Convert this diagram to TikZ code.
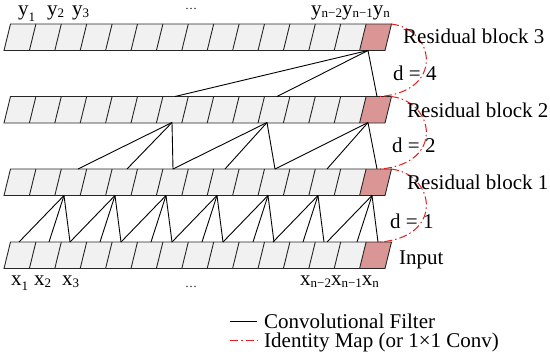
\documentclass[tikz,border=0pt]{standalone}
\usepackage{fontspec}
\setmainfont{Liberation Serif}
\definecolor{cellgray}{RGB}{241,241,241}
\definecolor{cellred}{RGB}{218,150,148}
\definecolor{idred}{RGB}{228,30,30}
\newcommand{\mysb}[2][2.5pt]{\raisebox{-#1}{\fontsize{13}{13}\selectfont #2}}
\begin{document}
\begin{tikzpicture}[x=1pt,y=-1pt,
  rowline/.style={draw=black!85, line width=0.9pt},
  conv/.style={black, line width=0.9pt},
  idmap/.style={idred, line width=1pt, dash pattern=on 8pt off 3pt on 1.5pt off 3pt},
  lbl/.style={font=\fontsize{21}{24}\selectfont, inner sep=0pt, anchor=base west},
  dots/.style={font=\fontsize{12}{12}\selectfont, inner sep=0pt, anchor=base},
]
\useasboundingbox (0,0) rectangle (550,354);
\def\cw{25.4}
\def\sl{6.5}
\def\hh{26.5}
% rows of cells
\foreach \r/\t in {0/242,1/169,2/96.5,3/24}{
  \pgfmathsetmacro{\b}{\t+\hh}
  \fill[cellgray] (4,\b) -- ({4+\sl},\t) -- ({4+\sl+14*\cw},\t) -- ({4+14*\cw},\b) -- cycle;
  \fill[cellred] ({4+14*\cw},\b) -- ({4+\sl+14*\cw},\t) -- ({4+\sl+15*\cw},\t) -- ({4+15*\cw},\b) -- cycle;
  \draw[rowline] (4,\b) -- ({4+\sl},\t) -- ({4+\sl+15*\cw},\t) -- ({4+15*\cw},\b) -- cycle;
  \foreach \k in {1,...,14} \draw[rowline] ({4+\k*\cw},\b) -- ({4+\sl+\k*\cw},\t);
  \coordinate (red\r) at ({4+\sl+15*\cw-0.5},\t);
  \coordinate (redin\r) at (380,\t);
}
% d = 1 filters
\foreach \a in {64,115,166,217,268,318,372}{
  \coordinate (apx) at (\a,195.5);
  \foreach \o in {-45,-15,6}{
    \coordinate (bp) at ({\a+\o},242);
    \draw[conv] (apx) -- (bp);
  }
}
% d = 2 filters
\foreach \a/\p/\q/\s in {172/78/127/173, 267/173/225/275, 368/275/327/377}{
  \coordinate (apx) at (\a,122.5);
  \foreach \x in {\p,\q,\s}{
    \coordinate (bp) at (\x,169);
    \draw[conv] (apx) -- (bp);
  }
}
% d = 4 filter
\coordinate (apx4) at (368,50.5);
\foreach \x in {175,277,377}{
  \coordinate (bp) at (\x,96.5);
  \draw[conv] (apx4) -- (bp);
}
% identity maps
\draw[idmap] (red3) .. controls (435,29) and (445,91.5) .. (redin2);
\draw[idmap] (red2) .. controls (435,101.5) and (445,164) .. (redin1);
\draw[idmap] (red1) .. controls (435,174) and (445,237) .. (redin0);
% labels right
\node[lbl] (rb3) at (403,43) {Residual block 3};
\node[lbl] (rb2) at (407,117) {Residual block 2};
\node[lbl] (rb1) at (407,189) {Residual block 1};
\node[lbl] (inp) at (399,264) {Input};
\node[lbl] (d4) at (393,80) {d = 4};
\node[lbl] (d2) at (392,152) {d = 2};
\node[lbl] (d1) at (390,228) {d = 1};
% top labels
\node[lbl] (y1) at (18,15) {y\mysb[6pt]{1}};
\node[lbl] (y2) at (47,15) {y\mysb[2pt]{2}};
\node[lbl] (y3) at (72,15) {y\mysb[2pt]{3}};
\node[dots] (ydots) at (191,9) {…};
\node[lbl] (yn) at (311,15) {y\mysb{n−2}y\mysb{n−1}y\mysb{n}};
% bottom labels
\node[lbl] (x1) at (11,285) {x\mysb[5pt]{1}};
\node[lbl] (x2) at (34,285) {x\mysb[2pt]{2}};
\node[lbl] (x3) at (62,285) {x\mysb[2pt]{3}};
\node[dots] (xdots) at (191,287) {…};
\node[lbl] (xn) at (300,285) {x\mysb{n−2}x\mysb{n−1}x\mysb{n}};
% legend
\coordinate (lga) at (230,321);
\coordinate (lgb) at (257,321);
\coordinate (lgc) at (230,340);
\coordinate (lgd) at (257,340);
\draw[conv] (lga) -- (lgb);
\draw[idmap] (lgc) -- (lgd);
\node[lbl] (lg1) at (264,328) {Convolutional Filter};
\node[lbl] (lg2) at (264,347) {Identity Map (or 1×1 Conv)};
\end{tikzpicture}
\end{document}
